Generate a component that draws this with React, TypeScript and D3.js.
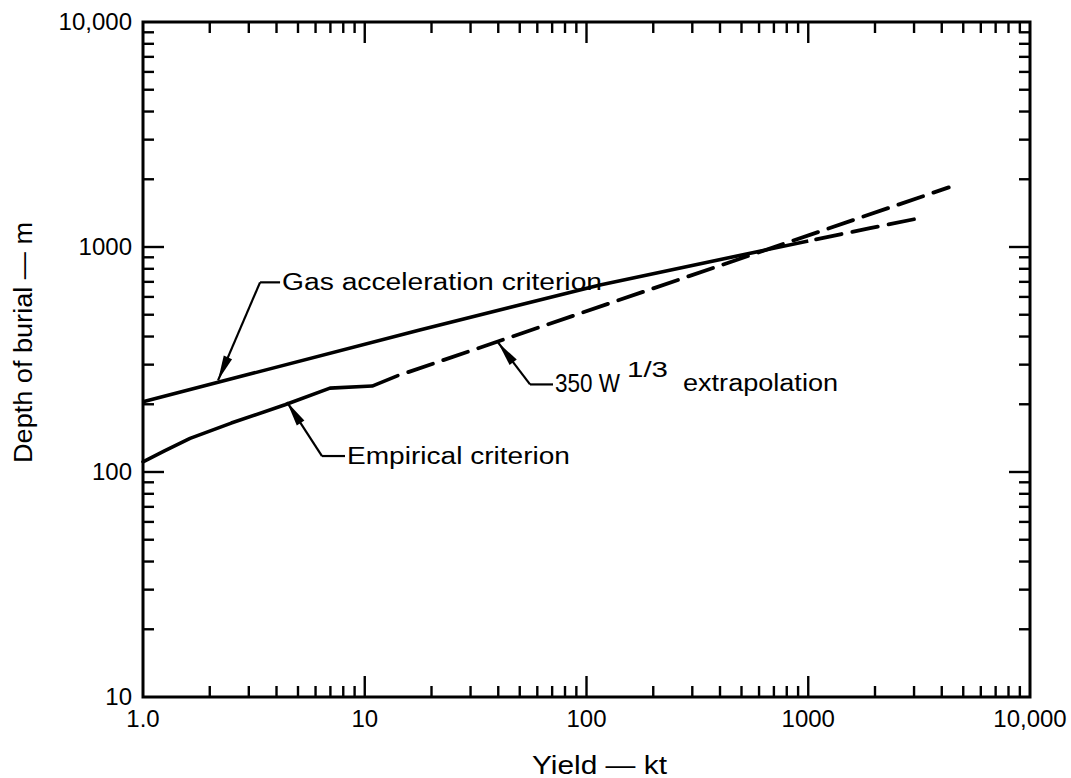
import React from 'react';
import * as d3 from 'd3';

const WIDTH = 1071;
const HEIGHT = 778;

// ---- data (yield in kt, depth of burial in m) ----
const gasSolidYield = [1, 17.7, 115, 1000];
const gasSolidDepth = [205, 428, 678, 1064];
const gasDashYield = [1000, 1900, 3030];
const gasDashDepth = [1064, 1213, 1331];
const empiricalYield = [1, 1.25, 1.63, 2.5, 4.37, 6.97, 10.8, 14.1];
const empiricalDepth = [111, 124, 141, 165, 199, 236, 241, 268];
const extrapYield = [14.1, 4300];
const extrapDepth = [268, 1840];

const xTickValues = [1, 10, 100, 1000, 10000];
const xTickLabels = ['1.0', '10', '100', '1000', '10,000'];
const yTickValues = [10, 100, 1000, 10000];
const yTickLabels = ['10', '100', '1000', '10,000'];

const xTitle = 'Yield — kt';
const yTitle = 'Depth of burial — m';

const FONT = '"Liberation Sans", Arial, sans-serif';

function interpLog(xs: number[], ys: number[], w: number) {
  const lw = Math.log10(w);
  for (let i = 0; i < xs.length - 1; i++) {
    const a = Math.log10(xs[i]);
    const b = Math.log10(xs[i + 1]);
    if (lw >= a && lw <= b) {
      const t = (lw - a) / (b - a);
      return Math.pow(10, Math.log10(ys[i]) + t * (Math.log10(ys[i + 1]) - Math.log10(ys[i])));
    }
  }
  return ys[ys.length - 1];
}

export default function App() {
  const left = 143, right = 1030, top = 22, bottom = 697;
  const x = d3.scaleLog().domain([1, 10000]).range([left, right]);
  const y = d3.scaleLog().domain([10, 10000]).range([bottom, top]);

  const line = d3
    .line<[number, number]>()
    .x((d) => x(d[0]))
    .y((d) => y(d[1]))
    .curve(d3.curveLinear);

  const zip = (a: number[], b: number[]) => a.map((v, i) => [v, b[i]] as [number, number]);

  const xt = x.ticks();
  const yt = y.ticks();
  const isMajor = (v: number) => Math.abs(Math.log10(v) - Math.round(Math.log10(v))) < 1e-9;

  const tickStroke = 2.4;
  const minorLen = 11;
  const majorLen = 21;

  const annots = [
    { text: 'Gas acceleration criterion', xs: gasSolidYield, ys: gasSolidDepth, at: 2.18, dx: 42, dy: -98, hlen: 20, textLen: 320, base: 8 },
    { text: 'Empirical criterion', xs: empiricalYield, ys: empiricalDepth, at: 4.46, dx: 35, dy: 54, hlen: 23, textLen: 223, base: 8 },
  ];

  const arrowHead = (tx: number, ty: number, fx: number, fy: number) => {
    const ang = Math.atan2(fy - ty, fx - tx);
    const L = 25, w = 4.5;
    const bx = tx + L * Math.cos(ang), by = ty + L * Math.sin(ang);
    const px = -Math.sin(ang) * w, py = Math.cos(ang) * w;
    return `M${tx},${ty}L${bx + px},${by + py}L${bx - px},${by - py}Z`;
  };

  const extAt = 39.9;
  const extTip: [number, number] = [x(extAt), y(interpLog(extrapYield, extrapDepth, extAt)) + 1];
  const extElbow: [number, number] = [extTip[0] + 32, extTip[1] + 42];

  return (
    <svg width={WIDTH} height={HEIGHT} style={{ position: 'absolute', left: 0, top: 0, background: '#fff' }}>
      <rect x={0} y={0} width={WIDTH} height={HEIGHT} fill="#fff" />
      <rect x={left} y={top} width={right - left} height={bottom - top} fill="none" stroke="#000" strokeWidth={3} />

      {xt.map((v, i) => {
        if (v <= 1 || v >= 10000) return null;
        const len = isMajor(v) ? majorLen : minorLen;
        return (
          <g key={'xt' + i}>
            <line x1={x(v)} x2={x(v)} y1={bottom} y2={bottom - len} stroke="#000" strokeWidth={tickStroke} />
            <line x1={x(v)} x2={x(v)} y1={top} y2={top + len} stroke="#000" strokeWidth={tickStroke} />
          </g>
        );
      })}
      {yt.map((v, i) => {
        if (v <= 10 || v >= 10000) return null;
        const len = isMajor(v) ? majorLen : minorLen;
        return (
          <g key={'yt' + i}>
            <line x1={left} x2={left + len} y1={y(v)} y2={y(v)} stroke="#000" strokeWidth={tickStroke} />
            <line x1={right} x2={right - len} y1={y(v)} y2={y(v)} stroke="#000" strokeWidth={tickStroke} />
          </g>
        );
      })}

      {xTickValues.map((v, i) => (
        <text key={'xl' + i} x={x(v)} y={727} textAnchor="middle" fontFamily={FONT} fontSize={24}>
          {xTickLabels[i]}
        </text>
      ))}
      {yTickValues.map((v, i) => (
        <text key={'yl' + i} x={132} y={y(v) + 8} textAnchor="end" fontFamily={FONT} fontSize={24}>
          {yTickLabels[i]}
        </text>
      ))}

      <text x={532} y={774} fontFamily={FONT} fontSize={25} textLength={135} lengthAdjust="spacingAndGlyphs">
        {xTitle}
      </text>
      <text
        transform={`translate(32,463) rotate(-90)`}
        fontFamily={FONT}
        fontSize={25}
        textLength={241}
        lengthAdjust="spacingAndGlyphs"
      >
        {yTitle}
      </text>

      <path d={line(zip(gasSolidYield, gasSolidDepth)) || ''} fill="none" stroke="#000" strokeWidth={3.6} strokeLinejoin="round" />
      <path d={line(zip(gasDashYield, gasDashDepth)) || ''} fill="none" stroke="#000" strokeWidth={3.8} strokeDasharray="26 11" strokeDashoffset={-8} strokeLinecap="round" />
      <path d={line(zip(empiricalYield, empiricalDepth)) || ''} fill="none" stroke="#000" strokeWidth={3.6} strokeLinejoin="round" strokeLinecap="round" />
      <path d={line(zip(extrapYield, extrapDepth)) || ''} fill="none" stroke="#000" strokeWidth={3.8} strokeDasharray="26 11" strokeDashoffset={26} strokeLinecap="round" />

      {annots.map((a, i) => {
        const tx = x(a.at);
        const ty = y(interpLog(a.xs, a.ys, a.at)) - 2;
        const ex = tx + a.dx, ey = ty + a.dy;
        return (
          <g key={'an' + i}>
            <line x1={ex} y1={ey} x2={tx} y2={ty} stroke="#000" strokeWidth={2.2} />
            <line x1={ex} y1={ey} x2={ex + a.hlen} y2={ey} stroke="#000" strokeWidth={2.2} />
            <path d={arrowHead(tx, ty, ex, ey)} fill="#000" />
            <text x={ex + a.hlen + 2} y={ey + a.base} fontFamily={FONT} fontSize={23} textLength={a.textLen} lengthAdjust="spacingAndGlyphs">
              {a.text}
            </text>
          </g>
        );
      })}
      <g>
        <line x1={extElbow[0]} y1={extElbow[1]} x2={extTip[0]} y2={extTip[1]} stroke="#000" strokeWidth={2.2} />
        <line x1={extElbow[0]} y1={extElbow[1]} x2={extElbow[0] + 23} y2={extElbow[1]} stroke="#000" strokeWidth={2.2} />
        <path d={arrowHead(extTip[0], extTip[1], extElbow[0], extElbow[1])} fill="#000" />
        <text x={extElbow[0] + 25} y={extElbow[1] + 8} fontFamily={FONT} fontSize={25} textLength={65} lengthAdjust="spacingAndGlyphs">
          350 W
        </text>
        <text x={extElbow[0] + 97} y={extElbow[1] - 7} fontFamily={FONT} fontSize={22} textLength={41} lengthAdjust="spacingAndGlyphs">
          1/3
        </text>
        <text x={extElbow[0] + 153} y={extElbow[1] + 7} fontFamily={FONT} fontSize={23} textLength={155} lengthAdjust="spacingAndGlyphs">
          extrapolation
        </text>
      </g>
    </svg>
  );
}
